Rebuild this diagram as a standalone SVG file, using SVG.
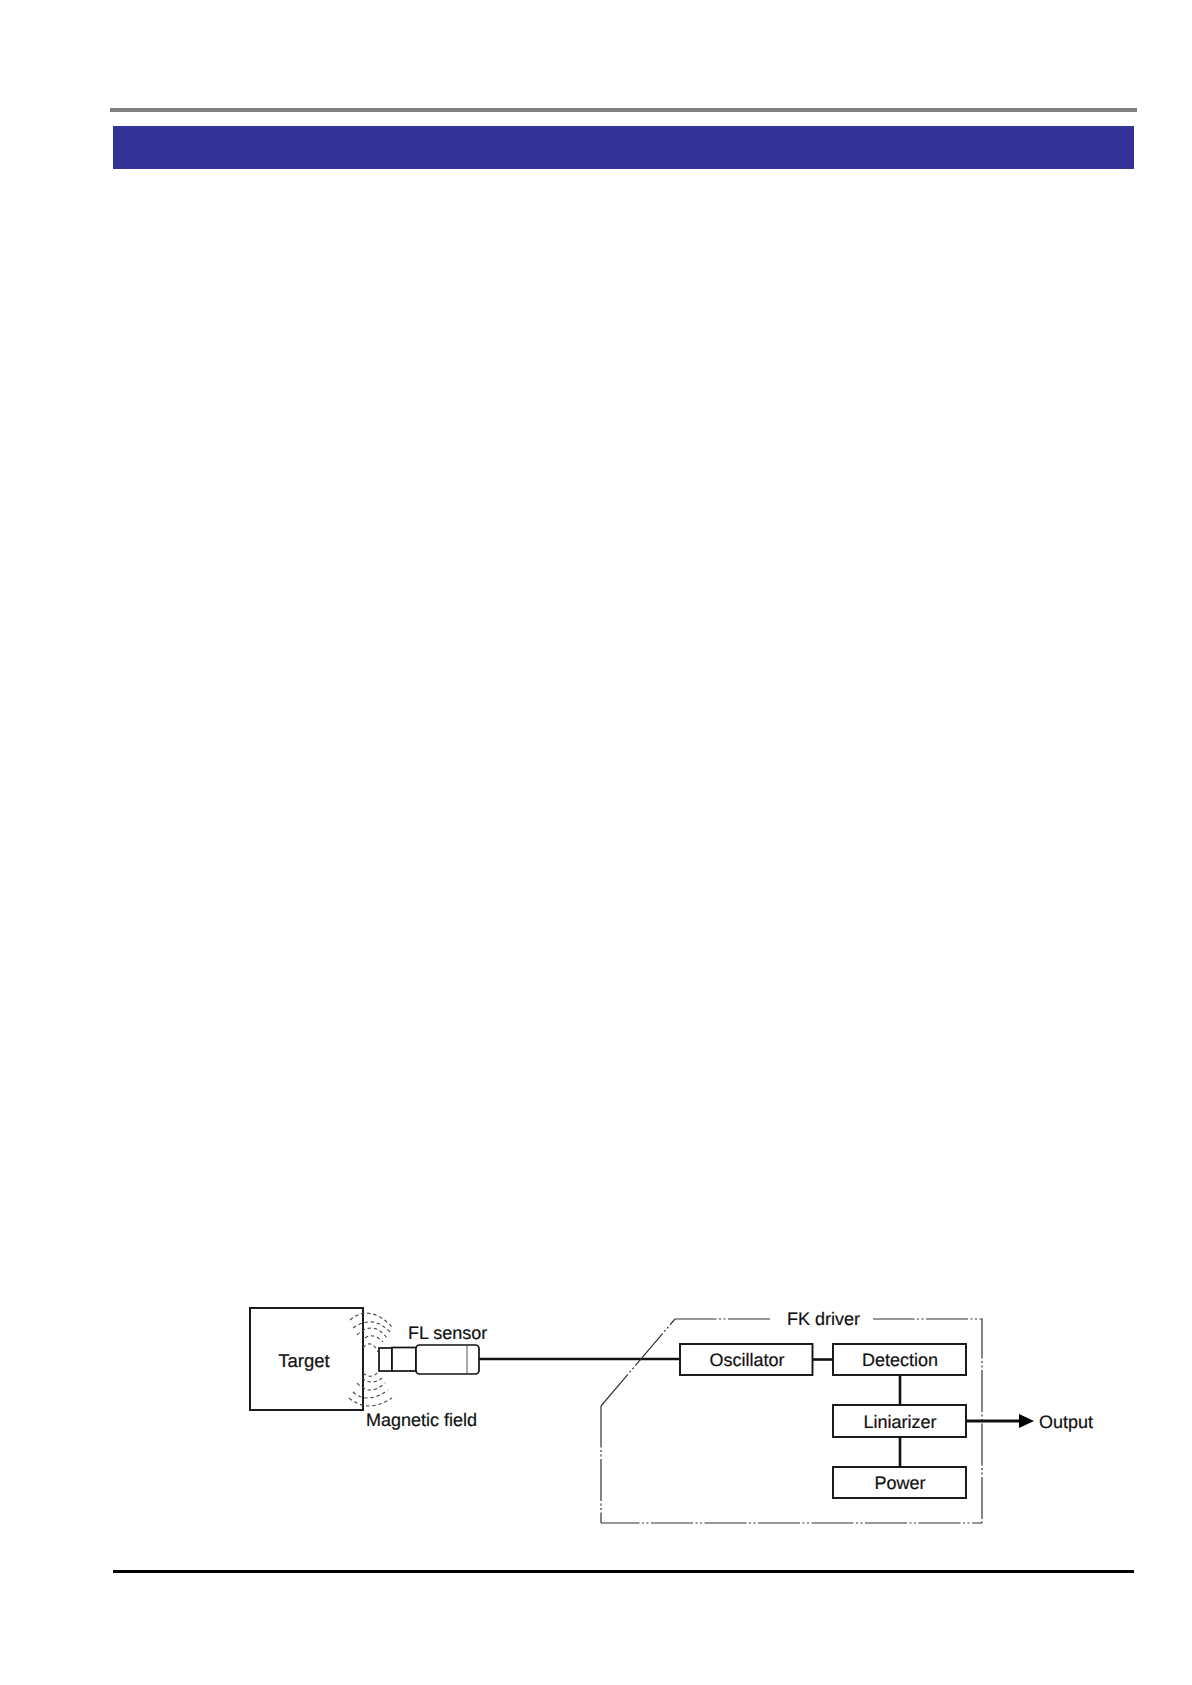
<svg xmlns="http://www.w3.org/2000/svg" width="1192" height="1685" viewBox="0 0 1192 1685">
<style>
.box{fill:#fff;stroke:#111;stroke-width:1.9}
.wire{fill:none;stroke:#111;stroke-width:2.6}
.field{fill:none;stroke:#444;stroke-width:1.1;stroke-dasharray:3.5 2.8}
.boundary{fill:none;stroke:#333;stroke-width:1.2;stroke-dasharray:42 2.5 2 2.5 2 2.5;stroke-dashoffset:.5}
.sensor{fill:#fff;stroke:#111;stroke-width:1.7}
text{font-family:"Liberation Sans",Arial,sans-serif;font-size:18px;fill:#111;stroke:#111;stroke-width:.2;text-rendering:geometricPrecision}
.c{text-anchor:middle}
</style>
<rect width="1192" height="1685" fill="#fff"/>
<g id="page-frame">
<rect x="110" y="108" width="1027" height="4" fill="#808080"/>
<rect x="113" y="126" width="1021" height="43" fill="#333399"/>
<rect x="113" y="1570" width="1021" height="3" fill="#000"/>
</g>
<g id="connectors">
<path class="wire" d="M479 1359H680"/>
<path class="wire" d="M812.500 1359.500H833"/>
<path class="wire" d="M900 1375V1405"/>
<path class="wire" d="M900 1437V1467"/>
<path class="wire" style="stroke-width:3" d="M966 1421H1020"/>
<polygon points="1019,1414 1034,1421 1019,1428" fill="#000"/>
</g>
<g id="fk-driver">
<path class="boundary" d="M601 1406L675 1319"/>
<path class="boundary" d="M675 1319H770"/>
<path class="boundary" d="M873 1319H982V1523"/>
<path class="boundary" style="stroke-dashoffset:3.500" d="M601 1523H982"/>
<path class="boundary" d="M601 1406V1523"/>
<text x="787" y="1325">FK driver</text>
</g>
<g id="target">
<rect class="box" x="250" y="1308" width="113" height="102"/>
<text class="c" x="304" y="1367" style="font-size:18.500px">Target</text>
</g>
<g id="magnetic-field">
<path class="field" d="M350 1320Q370 1303 393 1328"/>
<path class="field" d="M353 1328Q373 1314 390 1332"/>
<path class="field" d="M357 1335Q373 1319.500 387 1338"/>
<path class="field" d="M365 1338Q373 1332 383 1342"/>
<path class="field" d="M363 1348Q371 1338 378 1352"/>
<path class="field" d="M363 1373Q371 1380 378 1372"/>
<path class="field" d="M362 1378Q372 1386 382 1378"/>
<path class="field" d="M357 1383Q370 1397 385 1383"/>
<path class="field" d="M353 1392Q368 1405 388 1390"/>
<path class="field" d="M349 1398Q368 1414 392 1398"/>
<text x="366" y="1426">Magnetic field</text>
</g>
<g id="fl-sensor">
<rect class="sensor" x="379" y="1348" width="13" height="23"/>
<rect class="sensor" x="392" y="1347.500" width="24" height="23.500"/>
<rect class="sensor" x="416" y="1345" width="63" height="29" rx="3.500"/>
<path d="M467 1345V1374" stroke="#555" stroke-width="1" fill="none"/>
<text x="408" y="1339">FL sensor</text>
</g>
<g id="oscillator">
<rect class="box" x="680" y="1344" width="132.500" height="31"/>
<text class="c" x="747" y="1366">Oscillator</text>
</g>
<g id="detection">
<rect class="box" x="833" y="1344" width="133" height="31"/>
<text class="c" x="900" y="1366">Detection</text>
</g>
<g id="liniarizer">
<rect class="box" x="833" y="1405" width="133" height="32"/>
<text class="c" x="900" y="1428">Liniarizer</text>
</g>
<g id="power">
<rect class="box" x="833" y="1467" width="133" height="31"/>
<text class="c" x="900" y="1489">Power</text>
</g>
<g id="output">
<text x="1039" y="1428">Output</text>
</g>
</svg>
